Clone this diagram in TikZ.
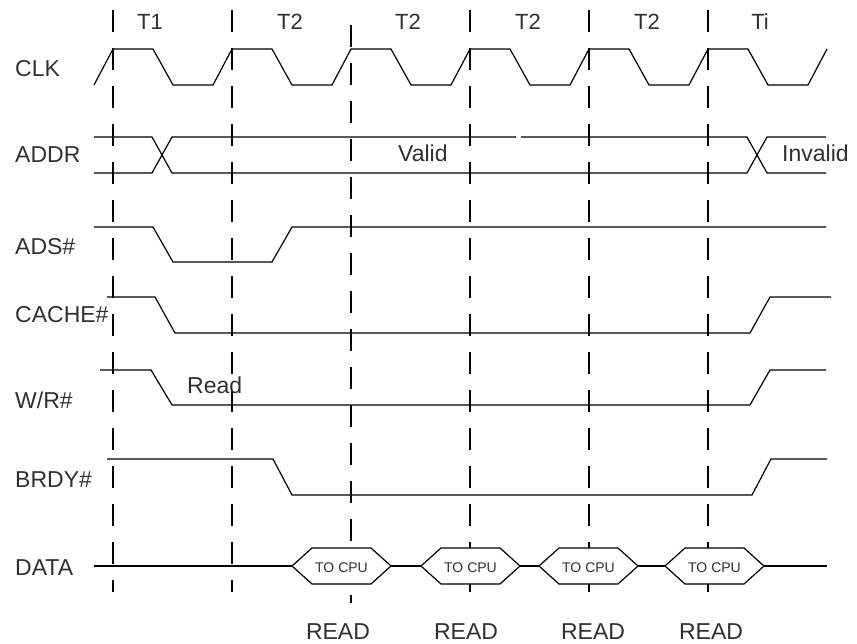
\documentclass[tikz,border=0pt]{standalone}
\usepackage{fontspec}
\setmainfont{Liberation Sans}
\definecolor{txt}{HTML}{303030}
\begin{document}
\begin{tikzpicture}[x=1pt,y=-1pt,
  sig/.style={line width=1.2pt, line join=miter},
  gridline/.style={line width=1.2pt, dash pattern=on 22pt off 16pt},
  lbl/.style={anchor=base west, inner sep=0pt, text=txt, font=\fontsize{23}{27}\selectfont},
  toplbl/.style={anchor=base, inner sep=0pt, text=txt, font=\fontsize{22}{26}\selectfont},
  hexlbl/.style={anchor=base, inner sep=0pt, text=txt, font=\fontsize{14}{16}\selectfont}]
\useasboundingbox (0,0) rectangle (857,644);

% cycle boundaries
\foreach \x in {113,232,470,589,708} \draw[gridline] (\x,10) -- (\x,592);
\draw[gridline] (351,25) -- (351,603);

% phase labels
\node[toplbl] (t1) at (150,30) {T1};
\node[toplbl] (t2a) at (290,30) {T2};
\node[toplbl] (t2b) at (408,30) {T2};
\node[toplbl] (t2c) at (528,30) {T2};
\node[toplbl] (t2d) at (647,30) {T2};
\node[toplbl] (ti) at (760,30) {Ti};

% signal names
\node[lbl] (clk) at (15,77) {CLK};
\node[lbl] (addr) at (15,163) {ADDR};
\node[lbl] (ads) at (15,255) {ADS\#};
\node[lbl] (cache) at (15,323) {CACHE\#};
\node[lbl] (wr) at (15,408) {W/R\#};
\node[lbl] (brdy) at (15,487) {BRDY\#};
\node[lbl] (data) at (15,575) {DATA};

% CLK
\draw[sig] (94,85)
  \foreach \t in {113,232,351,470,589,708} {
    -- (\t,49) -- (\t+40,49) -- (\t+60,85) -- (\t+100,85) }
  -- (827,49);

% ADDR
\draw[sig] (94,137) -- (152,137) -- (172,173) -- (747,173) -- (767,137) -- (826,137);
\draw[sig] (94,173) -- (152,173) -- (172,137) -- (516,137);
\draw[sig] (521,137) -- (747,137) -- (767,173) -- (826,173);
\node[lbl] (valid) at (398,162) {Valid};
\node[lbl] (invalid) at (782,162) {Invalid};

% ADS#
\draw[sig] (94,227) -- (153,227) -- (173,262) -- (272,262) -- (292,227) -- (826,227);

% CACHE#
\draw[sig] (107,297) -- (155,297) -- (175,333) -- (750,333) -- (770,297) -- (831,297);

% W/R#
\draw[sig] (100,370) -- (151,370) -- (172,405) -- (750,405) -- (770,370) -- (826,370);
\node[lbl] (read) at (187,393) {Read};

% BRDY#
\draw[sig] (107,459) -- (273,459) -- (292,495) -- (752,495) -- (771,459) -- (827,459);

% DATA
\draw[sig] (94,566) -- (292,566);
\draw[sig] (391,566) -- (421,566);
\draw[sig] (520,566) -- (539,566);
\draw[sig] (638,566) -- (665,566);
\draw[sig] (764,566) -- (827,566);
\foreach \l/\n in {292/1,421/2,539/3,665/4} {
  \draw[sig, fill=white] (\l,566) -- ++(20,-18) -- ++(59,0) -- ++(20,18) -- ++(-20,18) -- ++(-59,0) -- cycle;
  \node[hexlbl] (cpu\n) at (\l+49.5,572.5) {TO CPU};
}

% READ labels
\node[toplbl, font=\fontsize{23}{27}\selectfont] (rd1) at (338,639) {READ};
\node[toplbl, font=\fontsize{23}{27}\selectfont] (rd2) at (466,639) {READ};
\node[toplbl, font=\fontsize{23}{27}\selectfont] (rd3) at (593,639) {READ};
\node[toplbl, font=\fontsize{23}{27}\selectfont] (rd4) at (711,639) {READ};
\end{tikzpicture}
\end{document}
